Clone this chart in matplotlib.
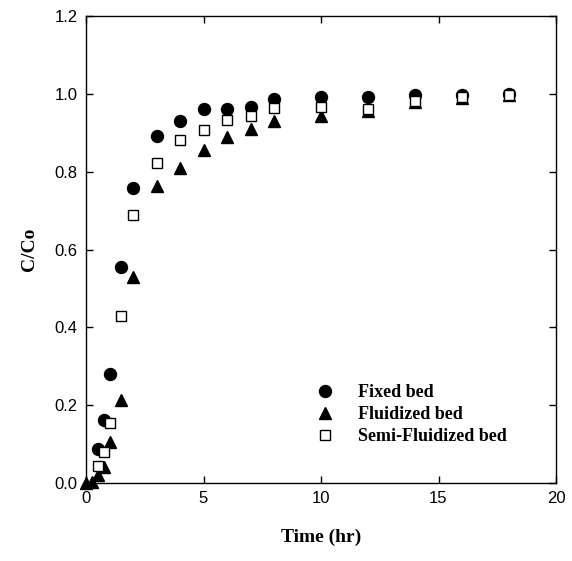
import matplotlib
matplotlib.use("Agg")
import matplotlib.pyplot as plt

# breakthrough data (time in hr, C/Co)
fixed_t = [0.5, 0.75, 1, 1.5, 2, 3, 4, 5, 6, 7, 8, 10, 12, 14, 16, 18]
fixed_c = [0.087, 0.163, 0.279, 0.555, 0.757, 0.892, 0.930, 0.962, 0.962,
           0.967, 0.988, 0.991, 0.992, 0.997, 0.998, 1.0]

fluid_t = [0, 0.25, 0.5, 0.75, 1, 1.5, 2, 3, 4, 5, 6, 7, 8, 10, 12, 14, 16, 18]
fluid_c = [0.0, 0.002, 0.02, 0.04, 0.105, 0.214, 0.529, 0.764, 0.810, 0.855,
           0.888, 0.910, 0.930, 0.943, 0.957, 0.980, 0.990, 0.998]

semi_t = [0.5, 0.75, 1, 1.5, 2, 3, 4, 5, 6, 7, 8, 10, 12, 14, 16, 18]
semi_c = [0.043, 0.080, 0.155, 0.428, 0.688, 0.821, 0.881, 0.908, 0.932,
          0.942, 0.963, 0.967, 0.962, 0.981, 0.992, 0.998]

x_ticks = [0, 5, 10, 15, 20]
y_ticks = [0.0, 0.2, 0.4, 0.6, 0.8, 1.0, 1.2]

serif_bold = {"family": "Liberation Serif", "weight": "bold"}

fig = plt.figure(figsize=(5.72, 5.61), dpi=100)
ax = fig.add_axes([86 / 572, 1 - 483 / 561, 470 / 572, 467 / 561])

ax.plot(fixed_t, fixed_c, "o", color="black", ms=8.6, clip_on=False,
        label="Fixed bed", zorder=3)
ax.plot(fluid_t, fluid_c, "^", color="black", ms=8.8, clip_on=False,
        label="Fluidized bed", zorder=3)
ax.plot(semi_t, semi_c, "s", mfc="white", mec="black", mew=1.0, ms=7.6,
        clip_on=False, label="Semi-Fluidized bed", zorder=4)

ax.set_xlim(0, 20)
ax.set_ylim(0, 1.2)
ax.set_xticks(x_ticks)
ax.set_yticks(y_ticks)
ax.set_xticklabels([str(t) for t in x_ticks], family="Liberation Sans", fontsize=12)
ax.set_yticklabels(["%.1f" % t for t in y_ticks], family="Liberation Sans", fontsize=12)
ax.tick_params(direction="in", length=5, width=1, top=True, right=True, pad=6)
for s in ax.spines.values():
    s.set_linewidth(1)

ax.set_xlabel("Time (hr)", fontdict=serif_bold, fontsize=14, labelpad=16)
ax.set_ylabel("C/Co", fontdict=serif_bold, fontsize=14, labelpad=12)

leg = ax.legend(loc="upper left", bbox_to_anchor=(0.455, 0.227), frameon=False,
                borderaxespad=0, numpoints=1, labelspacing=0.28,
                prop={"family": "Liberation Serif", "weight": "bold", "size": 13})

fig.savefig("out.png", dpi=100)
